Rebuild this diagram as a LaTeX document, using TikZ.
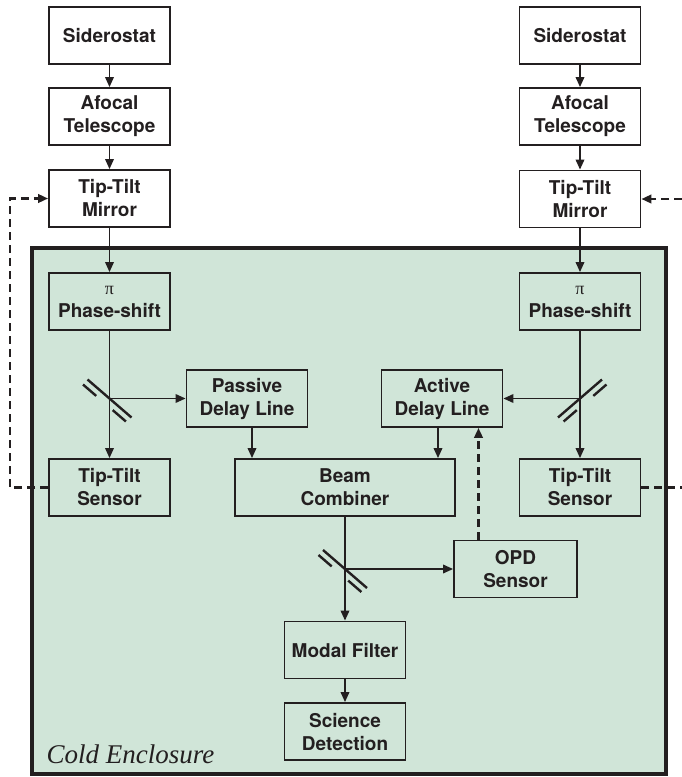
\documentclass[tikz,border=0pt]{standalone}
\usepackage{fontspec}
\newfontfamily\hv{TeX Gyre Heros}
\newfontfamily\tm{Liberation Serif}
\usetikzlibrary{arrows.meta}
\definecolor{encl}{RGB}{208,229,216}
\definecolor{ink}{RGB}{35,31,32}
\tikzset{
  box/.style={draw=ink, line width=1.8pt, minimum width=121pt, minimum height=57pt,
    inner sep=0pt, align=center, text=ink, font=\hv\bfseries\fontsize{19}{23}\selectfont},
  conn/.style={draw=ink, line width=1.8pt, -{Triangle[length=10pt,width=8.5pt]}},
  fb/.style={draw=ink, line width=2.4pt, dash pattern=on 8pt off 5pt},
  fbarrow/.style={fb, -{Triangle[length=10pt,width=8.5pt]}},
  bsplit/.pic={
    \draw[ink, line width=2.4pt] (-22,-19) -- (22,19);
    \draw[ink, line width=2.4pt] (-26.5,-14) -- (-13.3,-2.6);
    \draw[ink, line width=2.4pt] (3.2,11.6) -- (16.4,23);
  }
}
\begin{document}
\begin{tikzpicture}[x=1pt,y=-1pt]
\useasboundingbox (0,0) rectangle (682,777);
% enclosure
\draw[ink, line width=3.5pt, fill=encl] (32,248) rectangle (666,774);
\node[anchor=base west, text=ink, font=\tm\itshape\fontsize{27}{30}\selectfont] (cold) at (43,763) {Cold Enclosure};

% left column
\node[box] (sidL) at (109.5,35.5) {Siderostat};
\node[box] (afL) at (109.5,116.5) {Afocal\\Telescope};
\node[box] (ttmL) at (109.5,198.5) {Tip-Tilt\\Mirror};
\node[box] (phL) at (109.5,301.5) {{\tm\mdseries\fontsize{18}{21}\selectfont π}\\Phase-shift};
\node[box] (tsL) at (109.5,487.5) {Tip-Tilt\\Sensor};

% right column
\node[box] (sidR) at (580,35.5) {Siderostat};
\node[box] (afR) at (580,116.5) {Afocal\\Telescope};
\node[box] (ttmR) at (580,199) {Tip-Tilt\\Mirror};
\node[box] (phR) at (580,301.5) {{\tm\mdseries\fontsize{18}{21}\selectfont π}\\Phase-shift};
\node[box] (tsR) at (580,487.5) {Tip-Tilt\\Sensor};

% middle
\node[box] (pdl) at (247,398.5) {Passive\\Delay Line};
\node[box] (adl) at (442,398.5) {Active\\Delay Line};
\node[box, minimum width=220pt] (bc) at (345,487.5) {Beam\\Combiner};
\node[box, minimum width=123pt] (opd) at (515.5,569) {OPD\\Sensor};
\node[box] (mf) at (345,650) {Modal Filter};
\node[box] (sd) at (345,731.5) {Science\\Detection};

% splitter points
\coordinate (spL) at (phL |- pdl);
\coordinate (spR) at (phR |- adl);
\coordinate (spC) at (bc |- opd);

% straight chains
\draw[conn] (sidL) -- (afL);
\draw[conn] (afL) -- (ttmL);
\draw[conn] (ttmL) -- (phL);
\draw[conn] (phL) -- (tsL);
\draw[conn] (sidR) -- (afR);
\draw[conn] (afR) -- (ttmR);
\draw[conn] (ttmR) -- (phR);
\draw[conn] (phR) -- (tsR);
\draw[conn] (spL) -- (pdl.west);
\draw[conn] (spR) -- (adl.east);
\draw[conn] ([xshift=5pt]pdl.south) -- ([xshift=5pt]pdl.south |- bc.north);
\draw[conn] ([xshift=-4pt]adl.south) -- ([xshift=-4pt]adl.south |- bc.north);
\draw[conn] (bc) -- (mf);
\draw[conn] (spC) -- (opd.west);
\draw[conn] (mf) -- (sd);
\draw[fbarrow] ([xshift=-37pt]opd.north) -- ([xshift=-37pt]opd.north |- adl.south);

% mirrors
\pic at (spL) {bsplit};
\pic at (spC) {bsplit};
\pic[xscale=-1] at (spR) {bsplit};

% feedback loops
\coordinate (fbL) at (10,0);
\coordinate (fbR) at (682,0);
\draw[fbarrow] (tsL.west) -- (tsL.west -| fbL) |- (ttmL.west);
\draw[fb] (tsR.east) -- (tsR.east -| fbR);
\draw[fbarrow] (ttmR.east -| fbR) -- (ttmR.east);
\end{tikzpicture}
\end{document}
